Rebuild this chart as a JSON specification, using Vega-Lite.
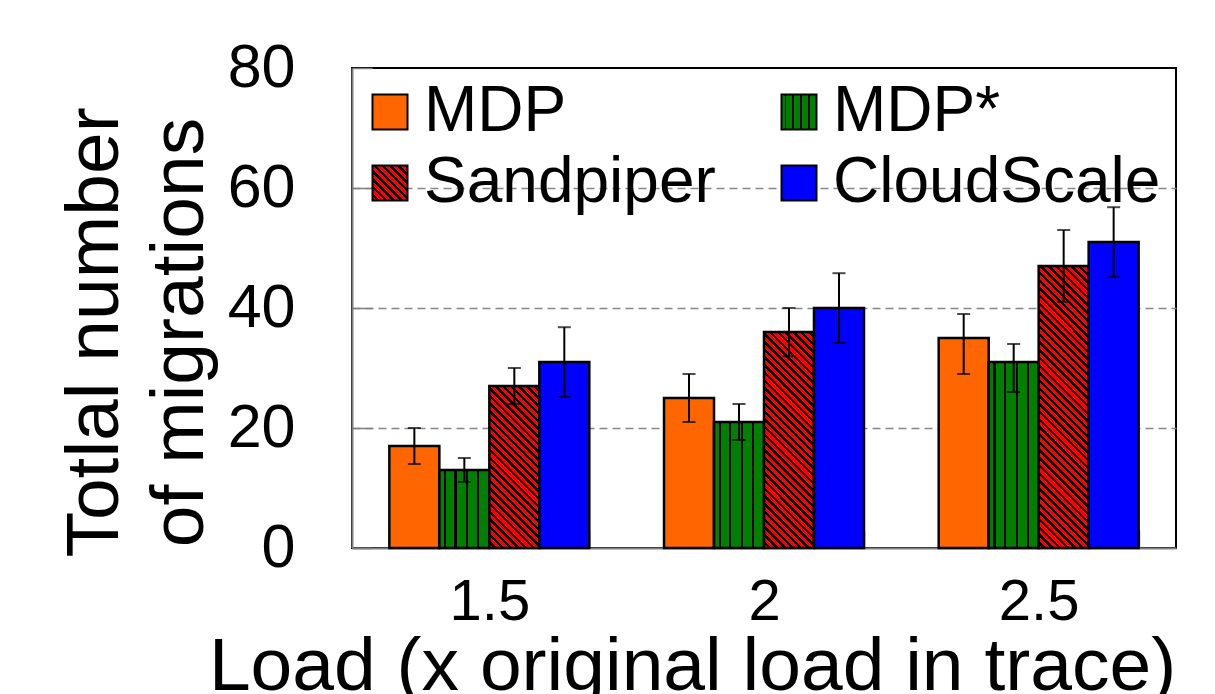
{
  "$schema": "https://vega.github.io/schema/vega-lite/v6.json",
  "width": 824,
  "height": 480,
  "autosize": {"type": "none"},
  "padding": {"left": 352, "top": 68, "right": 39, "bottom": 146},
  "background": "white",
  "config": {
    "font": "Liberation Sans",
    "view": {"stroke": "#000000", "strokeWidth": 2}
  },
  "data": {
    "values": [
      {"load": "1.5", "method": "MDP", "value": 17, "lo": 14, "hi": 20},
      {"load": "1.5", "method": "MDP*", "value": 13, "lo": 11, "hi": 15},
      {"load": "1.5", "method": "Sandpiper", "value": 27, "lo": 24, "hi": 30},
      {"load": "1.5", "method": "CloudScale", "value": 31, "lo": 25.2, "hi": 36.8},
      {"load": "2", "method": "MDP", "value": 25, "lo": 21, "hi": 29},
      {"load": "2", "method": "MDP*", "value": 21, "lo": 18, "hi": 24},
      {"load": "2", "method": "Sandpiper", "value": 36, "lo": 32, "hi": 40},
      {"load": "2", "method": "CloudScale", "value": 40, "lo": 34.2, "hi": 45.8},
      {"load": "2.5", "method": "MDP", "value": 35, "lo": 29, "hi": 39},
      {"load": "2.5", "method": "MDP*", "value": 31, "lo": 26, "hi": 34},
      {"load": "2.5", "method": "Sandpiper", "value": 47, "lo": 41, "hi": 53},
      {"load": "2.5", "method": "CloudScale", "value": 51, "lo": 45.2, "hi": 56.8}
    ]
  },
  "encoding": {
    "x": {
      "field": "load",
      "type": "nominal",
      "sort": ["1.5", "2", "2.5"],
      "scale": {"type": "band", "paddingInner": 0.272, "paddingOuter": 0.136},
      "axis": {
        "title": "Load (x original load in trace)",
        "titleFontSize": 75,
        "titleFontWeight": "normal",
        "titleColor": "#000000",
        "titleX": 340,
        "titleY": 141,
        "titleAlign": "center",
        "titleBaseline": "alphabetic",
        "labelAngle": 0,
        "labelFontSize": 58,
        "labelColor": "#000000",
        "labelPadding": 43,
        "domainColor": "#808080",
        "domainWidth": 2,
        "tickBand": "extent",
        "tickColor": "#808080",
        "tickWidth": 1.5,
        "tickSize": -18,
        "grid": false
      }
    },
    "xOffset": {
      "field": "method",
      "type": "nominal",
      "sort": ["MDP", "MDP*", "Sandpiper", "CloudScale"],
      "scale": {"domain": ["MDP", "MDP*", "Sandpiper", "CloudScale"], "paddingInner": 0, "paddingOuter": 0}
    }
  },
  "layer": [
    {
      "mark": {"type": "bar", "stroke": "#000000", "strokeWidth": 2.5},
      "encoding": {
        "y": {
          "field": "value",
          "type": "quantitative",
          "scale": {"domain": [0, 80], "nice": false},
          "axis": {
            "values": [0, 20, 40, 60, 80],
            "title": ["Totlal number", "of migrations"],
            "titleFontSize": 75,
            "titleFontWeight": "normal",
            "titleColor": "#000000",
            "titleLineHeight": 85,
            "titleX": -235,
            "titleY": 264,
            "titleAlign": "center",
            "titleBaseline": "alphabetic",
            "titleAngle": -90,
            "labelFontSize": 61,
            "labelColor": "#000000",
            "labelPadding": 77,
            "domainColor": "#808080",
            "domainWidth": 2,
            "tickColor": "#808080",
            "tickWidth": 1.5,
            "tickSize": -20,
            "grid": true,
            "gridColor": "#888888",
            "gridWidth": 1.5,
            "gridDash": [8, 5],
            "gridOpacity": {"condition": {"test": "datum.value === 80 || datum.value === 0", "value": 0}, "value": 1}
          }
        },
        "fill": {
          "condition": [
            {"test": "datum.method === 'Sandpiper' && datum.load === '1.5'", "value": {"gradient": "linear", "x1": 0, "y1": 1, "x2": 0.5775, "y2": -0.8711, "stops": [
                {"offset":0,"color":"#f00"},{"offset":0.0128,"color":"#f00"},{"offset":0.0128,"color":"#000"},{"offset":0.0233,"color":"#000"},
                {"offset":0.0233,"color":"#f00"},{"offset":0.0360,"color":"#f00"},{"offset":0.0360,"color":"#000"},{"offset":0.0465,"color":"#000"},
                {"offset":0.0465,"color":"#f00"},{"offset":0.0593,"color":"#f00"},{"offset":0.0593,"color":"#000"},{"offset":0.0698,"color":"#000"},
                {"offset":0.0698,"color":"#f00"},{"offset":0.0826,"color":"#f00"},{"offset":0.0826,"color":"#000"},{"offset":0.0930,"color":"#000"},
                {"offset":0.0930,"color":"#f00"},{"offset":0.1058,"color":"#f00"},{"offset":0.1058,"color":"#000"},{"offset":0.1163,"color":"#000"},
                {"offset":0.1163,"color":"#f00"},{"offset":0.1291,"color":"#f00"},{"offset":0.1291,"color":"#000"},{"offset":0.1395,"color":"#000"},
                {"offset":0.1395,"color":"#f00"},{"offset":0.1523,"color":"#f00"},{"offset":0.1523,"color":"#000"},{"offset":0.1628,"color":"#000"},
                {"offset":0.1628,"color":"#f00"},{"offset":0.1756,"color":"#f00"},{"offset":0.1756,"color":"#000"},{"offset":0.1860,"color":"#000"},
                {"offset":0.1860,"color":"#f00"},{"offset":0.1988,"color":"#f00"},{"offset":0.1988,"color":"#000"},{"offset":0.2093,"color":"#000"},
                {"offset":0.2093,"color":"#f00"},{"offset":0.2221,"color":"#f00"},{"offset":0.2221,"color":"#000"},{"offset":0.2326,"color":"#000"},
                {"offset":0.2326,"color":"#f00"},{"offset":0.2453,"color":"#f00"},{"offset":0.2453,"color":"#000"},{"offset":0.2558,"color":"#000"},
                {"offset":0.2558,"color":"#f00"},{"offset":0.2686,"color":"#f00"},{"offset":0.2686,"color":"#000"},{"offset":0.2791,"color":"#000"},
                {"offset":0.2791,"color":"#f00"},{"offset":0.2919,"color":"#f00"},{"offset":0.2919,"color":"#000"},{"offset":0.3023,"color":"#000"},
                {"offset":0.3023,"color":"#f00"},{"offset":0.3151,"color":"#f00"},{"offset":0.3151,"color":"#000"},{"offset":0.3256,"color":"#000"},
                {"offset":0.3256,"color":"#f00"},{"offset":0.3384,"color":"#f00"},{"offset":0.3384,"color":"#000"},{"offset":0.3488,"color":"#000"},
                {"offset":0.3488,"color":"#f00"},{"offset":0.3616,"color":"#f00"},{"offset":0.3616,"color":"#000"},{"offset":0.3721,"color":"#000"},
                {"offset":0.3721,"color":"#f00"},{"offset":0.3849,"color":"#f00"},{"offset":0.3849,"color":"#000"},{"offset":0.3953,"color":"#000"},
                {"offset":0.3953,"color":"#f00"},{"offset":0.4081,"color":"#f00"},{"offset":0.4081,"color":"#000"},{"offset":0.4186,"color":"#000"},
                {"offset":0.4186,"color":"#f00"},{"offset":0.4314,"color":"#f00"},{"offset":0.4314,"color":"#000"},{"offset":0.4419,"color":"#000"},
                {"offset":0.4419,"color":"#f00"},{"offset":0.4547,"color":"#f00"},{"offset":0.4547,"color":"#000"},{"offset":0.4651,"color":"#000"},
                {"offset":0.4651,"color":"#f00"},{"offset":0.4779,"color":"#f00"},{"offset":0.4779,"color":"#000"},{"offset":0.4884,"color":"#000"},
                {"offset":0.4884,"color":"#f00"},{"offset":0.5012,"color":"#f00"},{"offset":0.5012,"color":"#000"},{"offset":0.5116,"color":"#000"},
                {"offset":0.5116,"color":"#f00"},{"offset":0.5244,"color":"#f00"},{"offset":0.5244,"color":"#000"},{"offset":0.5349,"color":"#000"},
                {"offset":0.5349,"color":"#f00"},{"offset":0.5477,"color":"#f00"},{"offset":0.5477,"color":"#000"},{"offset":0.5581,"color":"#000"},
                {"offset":0.5581,"color":"#f00"},{"offset":0.5709,"color":"#f00"},{"offset":0.5709,"color":"#000"},{"offset":0.5814,"color":"#000"},
                {"offset":0.5814,"color":"#f00"},{"offset":0.5942,"color":"#f00"},{"offset":0.5942,"color":"#000"},{"offset":0.6047,"color":"#000"},
                {"offset":0.6047,"color":"#f00"},{"offset":0.6174,"color":"#f00"},{"offset":0.6174,"color":"#000"},{"offset":0.6279,"color":"#000"},
                {"offset":0.6279,"color":"#f00"},{"offset":0.6407,"color":"#f00"},{"offset":0.6407,"color":"#000"},{"offset":0.6512,"color":"#000"},
                {"offset":0.6512,"color":"#f00"},{"offset":0.6640,"color":"#f00"},{"offset":0.6640,"color":"#000"},{"offset":0.6744,"color":"#000"},
                {"offset":0.6744,"color":"#f00"},{"offset":0.6872,"color":"#f00"},{"offset":0.6872,"color":"#000"},{"offset":0.6977,"color":"#000"},
                {"offset":0.6977,"color":"#f00"},{"offset":0.7105,"color":"#f00"},{"offset":0.7105,"color":"#000"},{"offset":0.7209,"color":"#000"},
                {"offset":0.7209,"color":"#f00"},{"offset":0.7337,"color":"#f00"},{"offset":0.7337,"color":"#000"},{"offset":0.7442,"color":"#000"},
                {"offset":0.7442,"color":"#f00"},{"offset":0.7570,"color":"#f00"},{"offset":0.7570,"color":"#000"},{"offset":0.7674,"color":"#000"},
                {"offset":0.7674,"color":"#f00"},{"offset":0.7802,"color":"#f00"},{"offset":0.7802,"color":"#000"},{"offset":0.7907,"color":"#000"},
                {"offset":0.7907,"color":"#f00"},{"offset":0.8035,"color":"#f00"},{"offset":0.8035,"color":"#000"},{"offset":0.8140,"color":"#000"},
                {"offset":0.8140,"color":"#f00"},{"offset":0.8267,"color":"#f00"},{"offset":0.8267,"color":"#000"},{"offset":0.8372,"color":"#000"},
                {"offset":0.8372,"color":"#f00"},{"offset":0.8500,"color":"#f00"},{"offset":0.8500,"color":"#000"},{"offset":0.8605,"color":"#000"},
                {"offset":0.8605,"color":"#f00"},{"offset":0.8733,"color":"#f00"},{"offset":0.8733,"color":"#000"},{"offset":0.8837,"color":"#000"},
                {"offset":0.8837,"color":"#f00"},{"offset":0.8965,"color":"#f00"},{"offset":0.8965,"color":"#000"},{"offset":0.9070,"color":"#000"},
                {"offset":0.9070,"color":"#f00"},{"offset":0.9198,"color":"#f00"},{"offset":0.9198,"color":"#000"},{"offset":0.9302,"color":"#000"},
                {"offset":0.9302,"color":"#f00"},{"offset":0.9430,"color":"#f00"},{"offset":0.9430,"color":"#000"},{"offset":0.9535,"color":"#000"},
                {"offset":0.9535,"color":"#f00"},{"offset":0.9663,"color":"#f00"},{"offset":0.9663,"color":"#000"},{"offset":0.9767,"color":"#000"},
                {"offset":0.9767,"color":"#f00"},{"offset":0.9895,"color":"#f00"},{"offset":0.9895,"color":"#000"},{"offset":1,"color":"#000"}
            ]}},
            {"test": "datum.method === 'Sandpiper' && datum.load === '2'", "value": {"gradient": "linear", "x1": 0, "y1": 1, "x2": 0.3377, "y2": -0.4589, "stops": [
                {"offset":0,"color":"#f00"},{"offset":0.0128,"color":"#f00"},{"offset":0.0128,"color":"#000"},{"offset":0.0233,"color":"#000"},
                {"offset":0.0233,"color":"#f00"},{"offset":0.0360,"color":"#f00"},{"offset":0.0360,"color":"#000"},{"offset":0.0465,"color":"#000"},
                {"offset":0.0465,"color":"#f00"},{"offset":0.0593,"color":"#f00"},{"offset":0.0593,"color":"#000"},{"offset":0.0698,"color":"#000"},
                {"offset":0.0698,"color":"#f00"},{"offset":0.0826,"color":"#f00"},{"offset":0.0826,"color":"#000"},{"offset":0.0930,"color":"#000"},
                {"offset":0.0930,"color":"#f00"},{"offset":0.1058,"color":"#f00"},{"offset":0.1058,"color":"#000"},{"offset":0.1163,"color":"#000"},
                {"offset":0.1163,"color":"#f00"},{"offset":0.1291,"color":"#f00"},{"offset":0.1291,"color":"#000"},{"offset":0.1395,"color":"#000"},
                {"offset":0.1395,"color":"#f00"},{"offset":0.1523,"color":"#f00"},{"offset":0.1523,"color":"#000"},{"offset":0.1628,"color":"#000"},
                {"offset":0.1628,"color":"#f00"},{"offset":0.1756,"color":"#f00"},{"offset":0.1756,"color":"#000"},{"offset":0.1860,"color":"#000"},
                {"offset":0.1860,"color":"#f00"},{"offset":0.1988,"color":"#f00"},{"offset":0.1988,"color":"#000"},{"offset":0.2093,"color":"#000"},
                {"offset":0.2093,"color":"#f00"},{"offset":0.2221,"color":"#f00"},{"offset":0.2221,"color":"#000"},{"offset":0.2326,"color":"#000"},
                {"offset":0.2326,"color":"#f00"},{"offset":0.2453,"color":"#f00"},{"offset":0.2453,"color":"#000"},{"offset":0.2558,"color":"#000"},
                {"offset":0.2558,"color":"#f00"},{"offset":0.2686,"color":"#f00"},{"offset":0.2686,"color":"#000"},{"offset":0.2791,"color":"#000"},
                {"offset":0.2791,"color":"#f00"},{"offset":0.2919,"color":"#f00"},{"offset":0.2919,"color":"#000"},{"offset":0.3023,"color":"#000"},
                {"offset":0.3023,"color":"#f00"},{"offset":0.3151,"color":"#f00"},{"offset":0.3151,"color":"#000"},{"offset":0.3256,"color":"#000"},
                {"offset":0.3256,"color":"#f00"},{"offset":0.3384,"color":"#f00"},{"offset":0.3384,"color":"#000"},{"offset":0.3488,"color":"#000"},
                {"offset":0.3488,"color":"#f00"},{"offset":0.3616,"color":"#f00"},{"offset":0.3616,"color":"#000"},{"offset":0.3721,"color":"#000"},
                {"offset":0.3721,"color":"#f00"},{"offset":0.3849,"color":"#f00"},{"offset":0.3849,"color":"#000"},{"offset":0.3953,"color":"#000"},
                {"offset":0.3953,"color":"#f00"},{"offset":0.4081,"color":"#f00"},{"offset":0.4081,"color":"#000"},{"offset":0.4186,"color":"#000"},
                {"offset":0.4186,"color":"#f00"},{"offset":0.4314,"color":"#f00"},{"offset":0.4314,"color":"#000"},{"offset":0.4419,"color":"#000"},
                {"offset":0.4419,"color":"#f00"},{"offset":0.4547,"color":"#f00"},{"offset":0.4547,"color":"#000"},{"offset":0.4651,"color":"#000"},
                {"offset":0.4651,"color":"#f00"},{"offset":0.4779,"color":"#f00"},{"offset":0.4779,"color":"#000"},{"offset":0.4884,"color":"#000"},
                {"offset":0.4884,"color":"#f00"},{"offset":0.5012,"color":"#f00"},{"offset":0.5012,"color":"#000"},{"offset":0.5116,"color":"#000"},
                {"offset":0.5116,"color":"#f00"},{"offset":0.5244,"color":"#f00"},{"offset":0.5244,"color":"#000"},{"offset":0.5349,"color":"#000"},
                {"offset":0.5349,"color":"#f00"},{"offset":0.5477,"color":"#f00"},{"offset":0.5477,"color":"#000"},{"offset":0.5581,"color":"#000"},
                {"offset":0.5581,"color":"#f00"},{"offset":0.5709,"color":"#f00"},{"offset":0.5709,"color":"#000"},{"offset":0.5814,"color":"#000"},
                {"offset":0.5814,"color":"#f00"},{"offset":0.5942,"color":"#f00"},{"offset":0.5942,"color":"#000"},{"offset":0.6047,"color":"#000"},
                {"offset":0.6047,"color":"#f00"},{"offset":0.6174,"color":"#f00"},{"offset":0.6174,"color":"#000"},{"offset":0.6279,"color":"#000"},
                {"offset":0.6279,"color":"#f00"},{"offset":0.6407,"color":"#f00"},{"offset":0.6407,"color":"#000"},{"offset":0.6512,"color":"#000"},
                {"offset":0.6512,"color":"#f00"},{"offset":0.6640,"color":"#f00"},{"offset":0.6640,"color":"#000"},{"offset":0.6744,"color":"#000"},
                {"offset":0.6744,"color":"#f00"},{"offset":0.6872,"color":"#f00"},{"offset":0.6872,"color":"#000"},{"offset":0.6977,"color":"#000"},
                {"offset":0.6977,"color":"#f00"},{"offset":0.7105,"color":"#f00"},{"offset":0.7105,"color":"#000"},{"offset":0.7209,"color":"#000"},
                {"offset":0.7209,"color":"#f00"},{"offset":0.7337,"color":"#f00"},{"offset":0.7337,"color":"#000"},{"offset":0.7442,"color":"#000"},
                {"offset":0.7442,"color":"#f00"},{"offset":0.7570,"color":"#f00"},{"offset":0.7570,"color":"#000"},{"offset":0.7674,"color":"#000"},
                {"offset":0.7674,"color":"#f00"},{"offset":0.7802,"color":"#f00"},{"offset":0.7802,"color":"#000"},{"offset":0.7907,"color":"#000"},
                {"offset":0.7907,"color":"#f00"},{"offset":0.8035,"color":"#f00"},{"offset":0.8035,"color":"#000"},{"offset":0.8140,"color":"#000"},
                {"offset":0.8140,"color":"#f00"},{"offset":0.8267,"color":"#f00"},{"offset":0.8267,"color":"#000"},{"offset":0.8372,"color":"#000"},
                {"offset":0.8372,"color":"#f00"},{"offset":0.8500,"color":"#f00"},{"offset":0.8500,"color":"#000"},{"offset":0.8605,"color":"#000"},
                {"offset":0.8605,"color":"#f00"},{"offset":0.8733,"color":"#f00"},{"offset":0.8733,"color":"#000"},{"offset":0.8837,"color":"#000"},
                {"offset":0.8837,"color":"#f00"},{"offset":0.8965,"color":"#f00"},{"offset":0.8965,"color":"#000"},{"offset":0.9070,"color":"#000"},
                {"offset":0.9070,"color":"#f00"},{"offset":0.9198,"color":"#f00"},{"offset":0.9198,"color":"#000"},{"offset":0.9302,"color":"#000"},
                {"offset":0.9302,"color":"#f00"},{"offset":0.9430,"color":"#f00"},{"offset":0.9430,"color":"#000"},{"offset":0.9535,"color":"#000"},
                {"offset":0.9535,"color":"#f00"},{"offset":0.9663,"color":"#f00"},{"offset":0.9663,"color":"#000"},{"offset":0.9767,"color":"#000"},
                {"offset":0.9767,"color":"#f00"},{"offset":0.9895,"color":"#f00"},{"offset":0.9895,"color":"#000"},{"offset":1,"color":"#000"}
            ]}},
            {"test": "datum.method === 'Sandpiper' && datum.load === '2.5'", "value": {"gradient": "linear", "x1": 0, "y1": 1, "x2": 0.2024, "y2": -0.1415, "stops": [
                {"offset":0,"color":"#f00"},{"offset":0.0128,"color":"#f00"},{"offset":0.0128,"color":"#000"},{"offset":0.0233,"color":"#000"},
                {"offset":0.0233,"color":"#f00"},{"offset":0.0360,"color":"#f00"},{"offset":0.0360,"color":"#000"},{"offset":0.0465,"color":"#000"},
                {"offset":0.0465,"color":"#f00"},{"offset":0.0593,"color":"#f00"},{"offset":0.0593,"color":"#000"},{"offset":0.0698,"color":"#000"},
                {"offset":0.0698,"color":"#f00"},{"offset":0.0826,"color":"#f00"},{"offset":0.0826,"color":"#000"},{"offset":0.0930,"color":"#000"},
                {"offset":0.0930,"color":"#f00"},{"offset":0.1058,"color":"#f00"},{"offset":0.1058,"color":"#000"},{"offset":0.1163,"color":"#000"},
                {"offset":0.1163,"color":"#f00"},{"offset":0.1291,"color":"#f00"},{"offset":0.1291,"color":"#000"},{"offset":0.1395,"color":"#000"},
                {"offset":0.1395,"color":"#f00"},{"offset":0.1523,"color":"#f00"},{"offset":0.1523,"color":"#000"},{"offset":0.1628,"color":"#000"},
                {"offset":0.1628,"color":"#f00"},{"offset":0.1756,"color":"#f00"},{"offset":0.1756,"color":"#000"},{"offset":0.1860,"color":"#000"},
                {"offset":0.1860,"color":"#f00"},{"offset":0.1988,"color":"#f00"},{"offset":0.1988,"color":"#000"},{"offset":0.2093,"color":"#000"},
                {"offset":0.2093,"color":"#f00"},{"offset":0.2221,"color":"#f00"},{"offset":0.2221,"color":"#000"},{"offset":0.2326,"color":"#000"},
                {"offset":0.2326,"color":"#f00"},{"offset":0.2453,"color":"#f00"},{"offset":0.2453,"color":"#000"},{"offset":0.2558,"color":"#000"},
                {"offset":0.2558,"color":"#f00"},{"offset":0.2686,"color":"#f00"},{"offset":0.2686,"color":"#000"},{"offset":0.2791,"color":"#000"},
                {"offset":0.2791,"color":"#f00"},{"offset":0.2919,"color":"#f00"},{"offset":0.2919,"color":"#000"},{"offset":0.3023,"color":"#000"},
                {"offset":0.3023,"color":"#f00"},{"offset":0.3151,"color":"#f00"},{"offset":0.3151,"color":"#000"},{"offset":0.3256,"color":"#000"},
                {"offset":0.3256,"color":"#f00"},{"offset":0.3384,"color":"#f00"},{"offset":0.3384,"color":"#000"},{"offset":0.3488,"color":"#000"},
                {"offset":0.3488,"color":"#f00"},{"offset":0.3616,"color":"#f00"},{"offset":0.3616,"color":"#000"},{"offset":0.3721,"color":"#000"},
                {"offset":0.3721,"color":"#f00"},{"offset":0.3849,"color":"#f00"},{"offset":0.3849,"color":"#000"},{"offset":0.3953,"color":"#000"},
                {"offset":0.3953,"color":"#f00"},{"offset":0.4081,"color":"#f00"},{"offset":0.4081,"color":"#000"},{"offset":0.4186,"color":"#000"},
                {"offset":0.4186,"color":"#f00"},{"offset":0.4314,"color":"#f00"},{"offset":0.4314,"color":"#000"},{"offset":0.4419,"color":"#000"},
                {"offset":0.4419,"color":"#f00"},{"offset":0.4547,"color":"#f00"},{"offset":0.4547,"color":"#000"},{"offset":0.4651,"color":"#000"},
                {"offset":0.4651,"color":"#f00"},{"offset":0.4779,"color":"#f00"},{"offset":0.4779,"color":"#000"},{"offset":0.4884,"color":"#000"},
                {"offset":0.4884,"color":"#f00"},{"offset":0.5012,"color":"#f00"},{"offset":0.5012,"color":"#000"},{"offset":0.5116,"color":"#000"},
                {"offset":0.5116,"color":"#f00"},{"offset":0.5244,"color":"#f00"},{"offset":0.5244,"color":"#000"},{"offset":0.5349,"color":"#000"},
                {"offset":0.5349,"color":"#f00"},{"offset":0.5477,"color":"#f00"},{"offset":0.5477,"color":"#000"},{"offset":0.5581,"color":"#000"},
                {"offset":0.5581,"color":"#f00"},{"offset":0.5709,"color":"#f00"},{"offset":0.5709,"color":"#000"},{"offset":0.5814,"color":"#000"},
                {"offset":0.5814,"color":"#f00"},{"offset":0.5942,"color":"#f00"},{"offset":0.5942,"color":"#000"},{"offset":0.6047,"color":"#000"},
                {"offset":0.6047,"color":"#f00"},{"offset":0.6174,"color":"#f00"},{"offset":0.6174,"color":"#000"},{"offset":0.6279,"color":"#000"},
                {"offset":0.6279,"color":"#f00"},{"offset":0.6407,"color":"#f00"},{"offset":0.6407,"color":"#000"},{"offset":0.6512,"color":"#000"},
                {"offset":0.6512,"color":"#f00"},{"offset":0.6640,"color":"#f00"},{"offset":0.6640,"color":"#000"},{"offset":0.6744,"color":"#000"},
                {"offset":0.6744,"color":"#f00"},{"offset":0.6872,"color":"#f00"},{"offset":0.6872,"color":"#000"},{"offset":0.6977,"color":"#000"},
                {"offset":0.6977,"color":"#f00"},{"offset":0.7105,"color":"#f00"},{"offset":0.7105,"color":"#000"},{"offset":0.7209,"color":"#000"},
                {"offset":0.7209,"color":"#f00"},{"offset":0.7337,"color":"#f00"},{"offset":0.7337,"color":"#000"},{"offset":0.7442,"color":"#000"},
                {"offset":0.7442,"color":"#f00"},{"offset":0.7570,"color":"#f00"},{"offset":0.7570,"color":"#000"},{"offset":0.7674,"color":"#000"},
                {"offset":0.7674,"color":"#f00"},{"offset":0.7802,"color":"#f00"},{"offset":0.7802,"color":"#000"},{"offset":0.7907,"color":"#000"},
                {"offset":0.7907,"color":"#f00"},{"offset":0.8035,"color":"#f00"},{"offset":0.8035,"color":"#000"},{"offset":0.8140,"color":"#000"},
                {"offset":0.8140,"color":"#f00"},{"offset":0.8267,"color":"#f00"},{"offset":0.8267,"color":"#000"},{"offset":0.8372,"color":"#000"},
                {"offset":0.8372,"color":"#f00"},{"offset":0.8500,"color":"#f00"},{"offset":0.8500,"color":"#000"},{"offset":0.8605,"color":"#000"},
                {"offset":0.8605,"color":"#f00"},{"offset":0.8733,"color":"#f00"},{"offset":0.8733,"color":"#000"},{"offset":0.8837,"color":"#000"},
                {"offset":0.8837,"color":"#f00"},{"offset":0.8965,"color":"#f00"},{"offset":0.8965,"color":"#000"},{"offset":0.9070,"color":"#000"},
                {"offset":0.9070,"color":"#f00"},{"offset":0.9198,"color":"#f00"},{"offset":0.9198,"color":"#000"},{"offset":0.9302,"color":"#000"},
                {"offset":0.9302,"color":"#f00"},{"offset":0.9430,"color":"#f00"},{"offset":0.9430,"color":"#000"},{"offset":0.9535,"color":"#000"},
                {"offset":0.9535,"color":"#f00"},{"offset":0.9663,"color":"#f00"},{"offset":0.9663,"color":"#000"},{"offset":0.9767,"color":"#000"},
                {"offset":0.9767,"color":"#f00"},{"offset":0.9895,"color":"#f00"},{"offset":0.9895,"color":"#000"},{"offset":1,"color":"#000"}
            ]}}
          ],
          "field": "method",
          "type": "nominal",
          "sort": ["MDP", "MDP*", "Sandpiper", "CloudScale"],
          "scale": {
            "domain": ["MDP", "MDP*", "Sandpiper", "CloudScale"],
            "range": [
              "#ff6600",
              {"expr": "{gradient: 'linear', x1: 0, y1: 0, x2: 1, y2: 0, stops: [{offset: 0, color: '#008000'}, {offset: 0.095, color: '#008000'}, {offset: 0.095, color: '#000000'}, {offset: 0.14, color: '#000000'}, {offset: 0.14, color: '#008000'}, {offset: 0.3, color: '#008000'}, {offset: 0.3, color: '#000000'}, {offset: 0.345, color: '#000000'}, {offset: 0.345, color: '#008000'}, {offset: 0.537, color: '#008000'}, {offset: 0.537, color: '#000000'}, {offset: 0.582, color: '#000000'}, {offset: 0.582, color: '#008000'}, {offset: 0.757, color: '#008000'}, {offset: 0.757, color: '#000000'}, {offset: 0.802, color: '#000000'}, {offset: 0.802, color: '#008000'}, {offset: 1, color: '#008000'}]}"},
              {"expr": "{gradient: 'linear', x1: 0, y1: 1, x2: 1, y2: 0, stops: [{offset: 0, color: '#f00'}, {offset: 0.0611, color: '#f00'}, {offset: 0.0611, color: '#000'}, {offset: 0.1111, color: '#000'}, {offset: 0.1111, color: '#f00'}, {offset: 0.1722, color: '#f00'}, {offset: 0.1722, color: '#000'}, {offset: 0.2222, color: '#000'}, {offset: 0.2222, color: '#f00'}, {offset: 0.2833, color: '#f00'}, {offset: 0.2833, color: '#000'}, {offset: 0.3333, color: '#000'}, {offset: 0.3333, color: '#f00'}, {offset: 0.3944, color: '#f00'}, {offset: 0.3944, color: '#000'}, {offset: 0.4444, color: '#000'}, {offset: 0.4444, color: '#f00'}, {offset: 0.5056, color: '#f00'}, {offset: 0.5056, color: '#000'}, {offset: 0.5556, color: '#000'}, {offset: 0.5556, color: '#f00'}, {offset: 0.6167, color: '#f00'}, {offset: 0.6167, color: '#000'}, {offset: 0.6667, color: '#000'}, {offset: 0.6667, color: '#f00'}, {offset: 0.7278, color: '#f00'}, {offset: 0.7278, color: '#000'}, {offset: 0.7778, color: '#000'}, {offset: 0.7778, color: '#f00'}, {offset: 0.8389, color: '#f00'}, {offset: 0.8389, color: '#000'}, {offset: 0.8889, color: '#000'}, {offset: 0.8889, color: '#f00'}, {offset: 0.95, color: '#f00'}, {offset: 0.95, color: '#000'}, {offset: 1, color: '#000'}]}"},
              "#0000ff"
            ]
          },
          "legend": {
            "title": null,
            "orient": "none",
            "direction": "horizontal",
            "legendX": 6,
            "legendY": 12,
            "columns": 2,
            "columnPadding": 51,
            "rowPadding": 7,
            "padding": 0,
            "symbolType": "square",
            "symbolSize": 1225,
            "symbolStrokeColor": "#000000",
            "symbolStrokeWidth": 2,
            "labelFontSize": 64,
            "labelColor": "#000000",
            "labelOffset": 2,
            "labelLimit": 600
          }
        }
      }
    },
    {
      "mark": {"type": "rule", "color": "#000000", "strokeWidth": 2},
      "encoding": {
        "y": {"field": "lo", "type": "quantitative"},
        "y2": {"field": "hi"}
      }
    },
    {
      "mark": {"type": "tick", "color": "#000000", "thickness": 2, "size": 13, "orient": "horizontal"},
      "encoding": {
        "y": {"field": "lo", "type": "quantitative"}
      }
    },
    {
      "mark": {"type": "tick", "color": "#000000", "thickness": 2, "size": 13, "orient": "horizontal"},
      "encoding": {
        "y": {"field": "hi", "type": "quantitative"}
      }
    }
  ]
}
